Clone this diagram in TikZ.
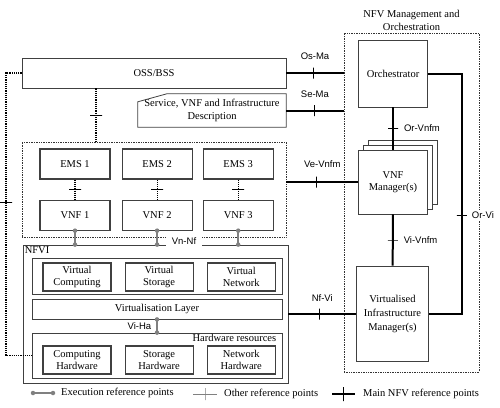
\documentclass[tikz,border=0pt]{standalone}
\usepackage{fontspec}
\setmainfont{Liberation Serif}
\newfontfamily\reffont{Liberation Sans}
\usepackage{tikz}
\usetikzlibrary{shadows}
\usetikzlibrary{positioning}
\usepackage{xcolor}
\tikzstyle{box} = [rectangle, draw=black!75, line width=0.8pt, inner sep=0pt, text centered, align=center, font=\fontsize{10.5}{12.5}\selectfont]
\tikzstyle{inbox} = [box, line width=1.1pt, minimum width=68pt, minimum height=28pt]
\tikzstyle{vnfbox} = [box, line width=1.1pt, minimum width=70pt, minimum height=30pt]
\tikzstyle{dombox} = [rectangle, draw=black!80, densely dotted, line width=0.7pt, inner sep=0pt]
\tikzstyle{boxtext} = [inner sep=0pt, text centered, align=center, font=\fontsize{10.5}{12.5}\selectfont]
\tikzstyle{mainline} = [line width=2pt]
\tikzstyle{otherline} = [densely dotted, line width=1.2pt]
\tikzstyle{execline} = [gray, line width=1.5pt]
\tikzstyle{execdot} = [circle, fill=gray, inner sep=0pt, minimum size=4.5pt]
\tikzstyle{htick} = [rectangle, draw=black, solid, inner sep=0pt, minimum width=12pt, minimum height=0pt, line width=1pt]
\tikzstyle{vtick} = [rectangle, draw=black, solid, inner sep=0pt, minimum width=0pt, minimum height=11pt, line width=1pt]
\tikzstyle{reflabel} = [font=\reffont\fontsize{9.5}{11}\selectfont, text=black, inner sep=1pt, fill=white]
\tikzstyle{legendtext} = [anchor=west, inner sep=0pt, font=\fontsize{10.5}{12.5}\selectfont]

\begin{document}
\begin{tikzpicture}[x=1pt, y=-1pt]
      \useasboundingbox (0,0) rectangle (500,407);

      % OSS/BSS and descriptions
      \node (oss) [box, minimum width=264pt, minimum height=30pt] at (154,73) {OSS/BSS};
      \node (desc) [boxtext, minimum width=148pt, minimum height=33pt] at (212,110.5) {Service, VNF and Infrastructure\\Description};
      \draw [draw=black!75, line width=0.8pt] ([yshift=-8pt]desc.north west) -- ([xshift=29pt]desc.north west) -- (desc.north east) -- (desc.south east) -- (desc.south west) -- cycle;

      % VNF domain
      \node (vnfdom) [dombox, minimum width=264pt, minimum height=95pt] at (154,189.5) {};
      \node (ems1) [vnfbox] at (75,164) {EMS 1};
      \node (ems2) [vnfbox, right=11pt of ems1] {EMS 2};
      \node (ems3) [vnfbox, right=10pt of ems2] {EMS 3};
      \node (vnf1) [vnfbox, below=20pt of ems1] {VNF 1};
      \node (vnf2) [vnfbox, below=20pt of ems2] {VNF 2};
      \node (vnf3) [vnfbox, below=20pt of ems3] {VNF 3};
      \draw [otherline] (ems1) -- node [htick] {} (vnf1);
      \draw [otherline] (ems2) -- node [htick] {} (vnf2);
      \draw [otherline] (ems3) -- node [htick] {} (vnf3);
      \draw [otherline] ([xshift=-58pt]oss.south) -- node [htick] {} ([xshift=-58pt]oss.south |- vnfdom.north);

      % NFVI
      \node (nfvi) [box, minimum width=265pt, minimum height=138pt] at (155.5,314) {};
      \node (nfvilabel) [boxtext, anchor=north west, inner sep=2pt] at (nfvi.north west) {NFVI};
      \node (virtres) [box, minimum width=250pt, minimum height=36pt] at (157,276) {};
      \node (vcomp) [inbox] at (77,277) {Virtual\\Computing};
      \node (vstor) [inbox, right=13pt of vcomp] {Virtual\\Storage};
      \node (vnet) [inbox, right=13pt of vstor] {Virtual\\Network};
      \node (virtlayer) [box, minimum width=250pt, minimum height=20pt] at (157,309) {Virtualisation Layer};
      \node (hwres) [box, minimum width=250pt, minimum height=45pt] at (157,355.5) {};
      \node (hwlabel) [boxtext, anchor=north east, inner sep=1pt] at ([xshift=-5pt]hwres.north east) {Hardware resources};
      \node (comphw) [inbox] at (77,360) {Computing\\Hardware};
      \node (storhw) [inbox, right=13pt of comphw] {Storage\\Hardware};
      \node (nethw) [inbox, right=13pt of storhw] {Network\\Hardware};

      % execution reference points
      \draw [execline] (vnf1.south) node [execdot] {} -- (vnf1.south |- nfvi.north) node [execdot] {};
      \draw [execline] (vnf2.south) node [execdot] {} -- (vnf2.south |- nfvi.north) node [execdot] {};
      \draw [execline] (vnf3.south) node [execdot] {} -- (vnf3.south |- nfvi.north) node [execdot] {};
      \node (vnnf) [reflabel, inner xsep=6pt, minimum height=12pt] at (184,241) {Vn-Nf};
      \draw [execline] (virtlayer.south) node [execdot] {} -- node [reflabel, left=4pt] {Vi-Ha} (virtlayer.south |- hwres.north) node [execdot] {};

      % OSS/BSS to hardware
      \coordinate (ossleft) at (6,73);
      \draw [otherline] (oss.west) -- (ossleft) -- node [htick, pos=0.46] {} (ossleft |- hwres.west) -- (hwres.west);

      % NFV management and orchestration
      \node (mano) [dombox, minimum width=135pt, minimum height=339pt] at (411.5,202.5) {};
      \node (manotitle) [boxtext, above=2pt of mano] {NFV Management and\\Orchestration};
      \node (orch) [box, minimum width=69pt, minimum height=67pt] at (393,73.5) {Orchestrator};
      \node (vnfm) [box, fill=white, double copy shadow={shadow xshift=5pt, shadow yshift=5pt, draw=black!75, fill=white}, minimum width=69pt, minimum height=64pt] at (393,182) {VNF\\Manager(s)};
      \node (vim) [box, minimum width=72pt, minimum height=95pt, font=\fontsize{10.5}{14}\selectfont] at (392.5,313.5) {Virtualised\\Infrastructure\\Manager(s)};

      % main reference points
      \draw [mainline] (oss.east) -- node [vtick, pos=0.47] {} node [reflabel, above=11pt] {Os-Ma} (oss.east -| mano.west);
      \draw [mainline] (desc.east) -- node [vtick, pos=0.5] {} node [reflabel, above=11pt] {Se-Ma} (desc.east -| mano.west);
      \draw [mainline] (vnfm.west -| vnfdom.east) -- node [vtick, pos=0.42] {} node [reflabel, above=12pt] {Ve-Vnfm} (vnfm.west);
      \draw [mainline] (orch) -- node [htick, minimum width=10pt] {} node [reflabel, right=9pt] {Or-Vnfm} (vnfm);
      \draw [mainline] (vnfm) -- node [htick, minimum width=10pt] {} node [reflabel, right=9pt] {Vi-Vnfm} (vim);
      \draw [mainline] (nfvi.east) -- node [vtick, pos=0.46] {} node [reflabel, above=11pt] {Nf-Vi} (nfvi.east -| vim.west);
      \draw [mainline] (orch.east) -- ++(34,0) coordinate (orvitop) -- node [htick, minimum width=10pt, pos=0.59] {} node [reflabel, right=8pt, pos=0.59] {Or-Vi} (orvitop |- vim.east) -- (vim.east);

      % legend
      \coordinate (execa) at (33,393);
      \coordinate (execb) at (53,393);
      \draw [execline] (execa) node [execdot] {} -- (execb) node [execdot] {};
      \node (exectext) [legendtext, right=8pt of execb] {Execution reference points};
      \coordinate (othera) at (193,394);
      \coordinate (otherb) at (217,394);
      \draw [gray, line width=0.8pt] (othera) -- node [vtick, draw=gray, line width=0.8pt, minimum height=12pt] {} (otherb);
      \node (othertext) [legendtext, right=7pt of otherb] {Other reference points};
      \coordinate (maina) at (332,394);
      \coordinate (mainb) at (355,394);
      \draw [mainline] (maina) -- node [vtick, line width=1.5pt, minimum height=14pt] {} (mainb);
      \node (maintext) [legendtext, right=8pt of mainb] {Main NFV reference points};
    \end{tikzpicture}
\end{document}
